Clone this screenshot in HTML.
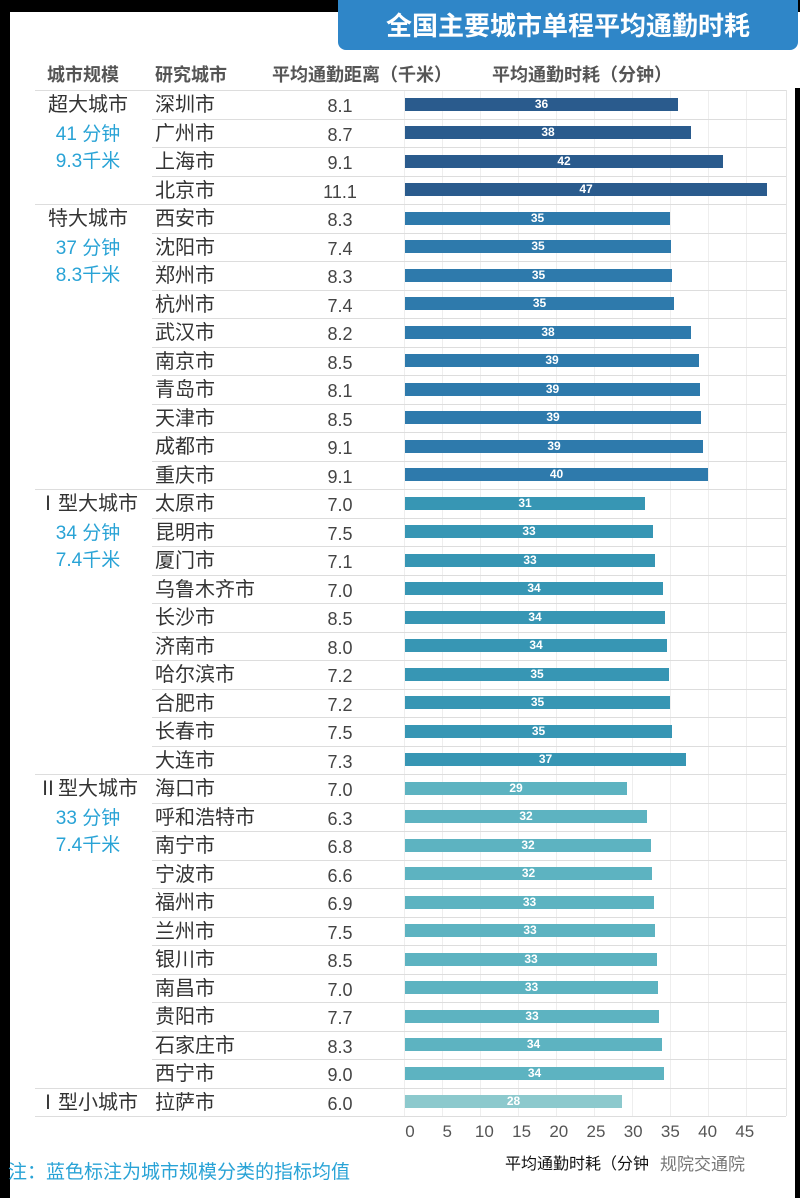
<!DOCTYPE html>
<html><head><meta charset="utf-8"><style>
html,body{margin:0;padding:0;background:#000;}
#w{position:relative;width:800px;height:1198px;background:#000;overflow:hidden;font-family:"Liberation Sans","Noto Sans CJK SC",sans-serif;}
.a{position:absolute;white-space:nowrap;}
</style></head><body><div id="w">
<div class="a" style="left:10px;top:12px;width:790px;height:1186px;background:#fff"></div>
<div class="a" style="left:795px;top:88px;width:5px;height:1110px;background:#000"></div>
<div class="a" style="left:0;top:1110px;width:5px;height:88px;background:#000"></div>
<div class="a" style="left:338px;top:0;width:460px;height:50px;background:#2f86c8;border-radius:0 0 8px 8px;"></div>
<div class="a" style="left:338px;top:4px;width:460px;text-align:center;color:#fff;font-size:26px;font-weight:bold;line-height:44px;">全国主要城市单程平均通勤时耗</div>
<div class="a" style="left:47px;top:61px;color:#555;font-size:18px;font-weight:bold;">城市规模</div>
<div class="a" style="left:155px;top:61px;color:#555;font-size:18px;font-weight:bold;">研究城市</div>
<div class="a" style="left:272px;top:61px;color:#555;font-size:18px;font-weight:bold;">平均通勤距离（千米）</div>
<div class="a" style="left:492px;top:61px;color:#555;font-size:18px;font-weight:bold;">平均通勤时耗（分钟）</div>
<div id="c"></div>
<div class="a" style="left:505px;top:1150px;color:#111;font-size:16px;">平均通勤时耗（分钟</div>
<div class="a" style="left:660px;top:1150px;color:#777;font-size:17px;">规院交通院</div>
<div class="a" style="left:8px;top:1157px;color:#29a3d6;font-size:19px;">注：蓝色标注为城市规模分类的指标均值</div>
</div>
<script>
var d=[["深圳市","8.1",36,678],["广州市","8.7",38,691],["上海市","9.1",42,723],["北京市","11.1",47,767],
["西安市","8.3",35,670],["沈阳市","7.4",35,671],["郑州市","8.3",35,672],["杭州市","7.4",35,674],["武汉市","8.2",38,691],["南京市","8.5",39,699],["青岛市","8.1",39,700],["天津市","8.5",39,701],["成都市","9.1",39,703],["重庆市","9.1",40,708],
["太原市","7.0",31,645],["昆明市","7.5",33,653],["厦门市","7.1",33,655],["乌鲁木齐市","7.0",34,663],["长沙市","8.5",34,665],["济南市","8.0",34,667],["哈尔滨市","7.2",35,669],["合肥市","7.2",35,670],["长春市","7.5",35,672],["大连市","7.3",37,686],
["海口市","7.0",29,627],["呼和浩特市","6.3",32,647],["南宁市","6.8",32,651],["宁波市","6.6",32,652],["福州市","6.9",33,654],["兰州市","7.5",33,655],["银川市","8.5",33,657],["南昌市","7.0",33,658],["贵阳市","7.7",33,659],["石家庄市","8.3",34,662],["西宁市","9.0",34,664],
["拉萨市","6.0",28,622]];
var groups=[[0,"超大城市","41 分钟","9.3千米","#2a5b8d"],[4,"特大城市","37 分钟","8.3千米","#2e7aac"],[14,"Ⅰ型大城市","34 分钟","7.4千米","#3796b4"],[24,"Ⅱ型大城市","33 分钟","7.4千米","#5db3c1"],[35,"Ⅰ型小城市","","","#8cc9cd"]];
var h="",y0=90,rh=28.51;
for(var g=0;g<10;g++){var x=404+g*38;h+='<div class="a" style="left:'+x+'px;top:90px;width:1px;height:1026px;background:#eee"></div>';}
h+='<div class="a" style="left:786px;top:90px;width:1px;height:1026px;background:#e4e4e4"></div>';
function col(i){var c;groups.forEach(function(g){if(i>=g[0])c=g[4];});return c;}
var starts=groups.map(function(g){return g[0]});
for(var i=0;i<d.length;i++){var y=y0+i*rh;
var gl=starts.indexOf(i)>=0;
h+='<div class="a" style="left:'+(gl?35:152)+'px;top:'+Math.round(y)+'px;width:'+(gl?751:634)+'px;height:1px;background:#ddd"></div>';
h+='<div class="a" style="left:155px;top:'+(y+2)+'px;font-size:20px;color:#333;line-height:26px">'+d[i][0]+'</div>';
h+='<div class="a" style="left:300px;width:80px;text-align:center;top:'+(y+3)+'px;font-size:18px;color:#444;line-height:26px">'+d[i][1]+'</div>';
h+='<div class="a" style="left:405px;top:'+(y+7.5)+'px;width:'+(d[i][3]-405)+'px;height:13px;background:'+col(i)+';color:#fff;font-size:12px;font-weight:bold;text-align:center;line-height:13px">'+d[i][2]+'</div>';}
h+='<div class="a" style="left:35px;top:1116px;width:751px;height:1px;background:#ddd"></div>';
groups.forEach(function(g){var y=y0+g[0]*rh;
h+='<div class="a" style="left:18px;width:140px;text-align:center;top:'+(y+2)+'px;font-size:20px;color:#333;line-height:26px">'+g[1]+'</div>';
if(g[2]){h+='<div class="a" style="left:18px;width:140px;text-align:center;top:'+(y+rh+3)+'px;font-size:19px;color:#29a3d6;line-height:26px">'+g[2]+'</div>';
h+='<div class="a" style="left:18px;width:140px;text-align:center;top:'+(y+2*rh+2)+'px;font-size:19px;color:#29a3d6;line-height:26px">'+g[3]+'</div>';}});
for(var t=0;t<10;t++){h+='<div class="a" style="left:'+(390+t*37.2)+'px;width:40px;text-align:center;top:1122px;font-size:17px;color:#555">'+(t*5)+'</div>';}
document.getElementById('c').innerHTML=h;
</script>
</body></html>
